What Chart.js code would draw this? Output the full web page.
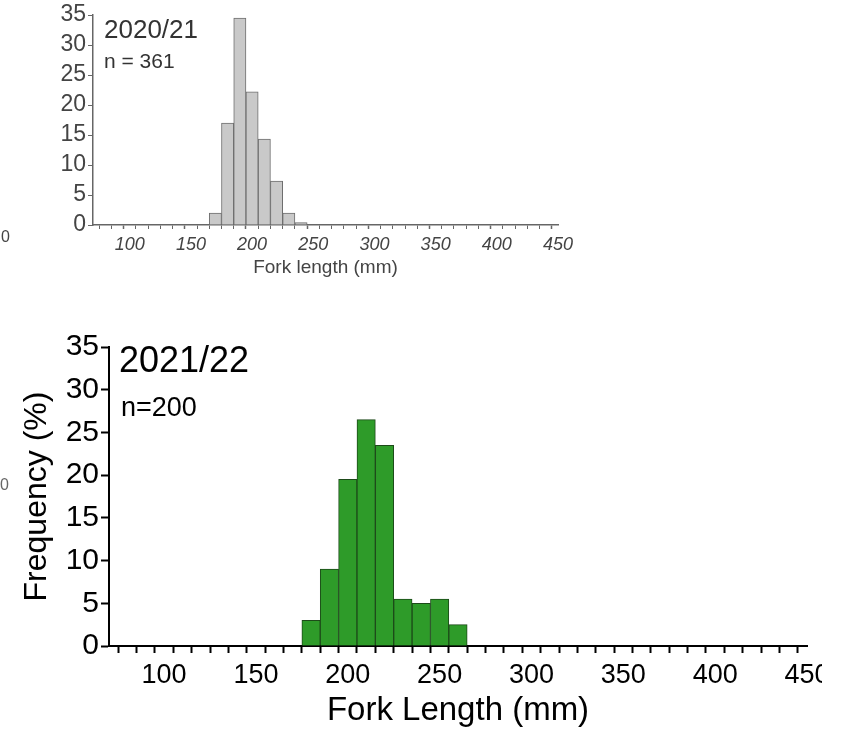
<!DOCTYPE html>
<html>
<head>
<meta charset="utf-8">
<script src="https://cdn.jsdelivr.net/npm/chart.js@4.4.1/dist/chart.umd.min.js"></script>
<style>
  html, body { margin: 0; padding: 0; background: #fff; }
  body { width: 848px; height: 731px; position: relative; overflow: hidden; font-family: "Liberation Sans", Arial, sans-serif; }
  .abs { position: absolute; white-space: nowrap; line-height: 1; }
  #topWrap { position: absolute; left: 0; top: 0; width: 620px; height: 290px; }
  #bottomWrap { position: absolute; left: 0; top: 330px; width: 822px; height: 401px; overflow: hidden; }
</style>
</head>
<body>
<div id="topWrap"><canvas id="season2021" width="620" height="290"></canvas></div>
<div id="bottomWrap"><canvas id="season2122" width="848" height="401"></canvas></div>

<div class="abs" style="left:104px; top:16px; font-size:26px; color:#333;">2020/21</div>
<div class="abs" style="left:104px; top:50px; font-size:21px; color:#333;">n = 361</div>
<div class="abs" style="left:119px; top:342px; font-size:36px; color:#000;">2021/22</div>
<div class="abs" style="left:121px; top:394px; font-size:27px; color:#000;">n=200</div>
<div class="abs" style="left:1px; top:229px; font-size:16px; color:#444;">0</div>
<div class="abs" style="left:0px; top:477px; font-size:16px; color:#666;">0</div>

<script>
// length classes (mm, bin centres) and frequency (%)
const bins2021 = [170, 180, 190, 200, 210, 220, 230, 240];
const freq2021 = [2, 17, 34.5, 22.2, 14.3, 7.3, 2, 0.4];

const bins2122 = [180, 190, 200, 210, 220, 230, 240, 250, 260];
const freq2122 = [3, 9, 19.5, 26.5, 23.5, 5.5, 5, 5.5, 2.5];

const xMin = 70;
const xMax = 450;
const yMax = 35;

const toPoints = (xs, ys) => xs.map((x, i) => ({ x: x, y: ys[i] }));

// small grey panel (2020/21)
new Chart(document.getElementById("season2021"), {
  type: "bar",
  data: {
    datasets: [
      {
        data: toPoints(bins2021, freq2021),
        backgroundColor: "#c9c9c9",
        borderColor: "#6e6e6e",
        borderWidth: 1,
        barPercentage: 1,
        categoryPercentage: 1,
      },
    ],
  },
  options: {
    responsive: false,
    animation: false,
    layout: { padding: { top: 15, right: 62, left: 0, bottom: 0 } },
    plugins: { legend: { display: false }, tooltip: { enabled: false } },
    scales: {
      x: {
        type: "linear",
        min: xMin,
        max: xMax,
        offset: false,
        afterFit: (scale) => { scale.height = 65; },
        ticks: {
          stepSize: 10,
          autoSkip: false,
          maxRotation: 0,
          padding: 5,
          color: "#444",
          font: { family: "Liberation Sans, Arial", size: 18, style: "italic" },
          callback: (v) => (v % 50 === 0 ? v : ""),
        },
        grid: {
          drawOnChartArea: false,
          tickLength: 4,
          tickColor: "#666",
          tickWidth: (ctx) => (ctx.tick && ctx.tick.value % 50 === 0 ? 1.5 : 1),
        },
        border: { color: "#666", width: 1.5 },
        title: {
          display: true,
          text: "Fork length (mm)",
          color: "#444",
          font: { family: "Liberation Sans, Arial", size: 19 },
          padding: { top: 0, bottom: 11 },
        },
      },
      y: {
        min: 0,
        max: yMax,
        afterFit: (scale) => { scale.width = 93; },
        ticks: {
          stepSize: 2.5,
          padding: 2,
          color: "#444",
          font: { family: "Liberation Sans, Arial", size: 23, lineHeight: 1 },
          callback: (v) => (v % 5 === 0 ? v : ""),
        },
        grid: { drawOnChartArea: false, tickLength: 5, tickColor: "#666" },
        border: { color: "#666", width: 1.5 },
      },
    },
  },
});

// large green panel (2021/22)
new Chart(document.getElementById("season2122"), {
  type: "bar",
  data: {
    datasets: [
      {
        data: toPoints(bins2122, freq2122),
        backgroundColor: "#2e9b29",
        borderColor: "#1d4a19",
        borderWidth: 1,
        barPercentage: 1,
        categoryPercentage: 1,
      },
    ],
  },
  options: {
    responsive: false,
    animation: false,
    layout: { padding: { top: 15, right: 41, left: 0, bottom: 0 } },
    plugins: { legend: { display: false }, tooltip: { enabled: false } },
    scales: {
      x: {
        type: "linear",
        min: xMin,
        max: xMax,
        offset: false,
        afterFit: (scale) => { scale.height = 85; },
        ticks: {
          stepSize: 10,
          autoSkip: false,
          maxRotation: 0,
          padding: 6,
          color: "#000",
          font: { family: "Liberation Sans, Arial", size: 27 },
          callback: (v) => (v % 50 === 0 ? v : ""),
        },
        grid: { drawOnChartArea: false, tickLength: 7, tickColor: "#000", tickWidth: 2 },
        border: { color: "#000", width: 2 },
        title: {
          display: true,
          text: "Fork Length (mm)",
          color: "#000",
          font: { family: "Liberation Sans, Arial", size: 33 },
          padding: { top: 0, bottom: 0 },
        },
      },
      y: {
        min: 0,
        max: yMax,
        afterFit: (scale) => { scale.width = 109; },
        ticks: {
          stepSize: 5,
          padding: 2,
          color: "#000",
          font: { family: "Liberation Sans, Arial", size: 30, lineHeight: 1 },
        },
        grid: { drawOnChartArea: false, tickLength: 8, tickColor: "#000", tickWidth: 2 },
        border: { color: "#000", width: 2 },
        title: {
          display: true,
          text: "Frequency (%)",
          color: "#000",
          font: { family: "Liberation Sans, Arial", size: 32 },
          padding: { top: 18, bottom: 0 },
        },
      },
    },
  },
});
</script>
</body>
</html>
